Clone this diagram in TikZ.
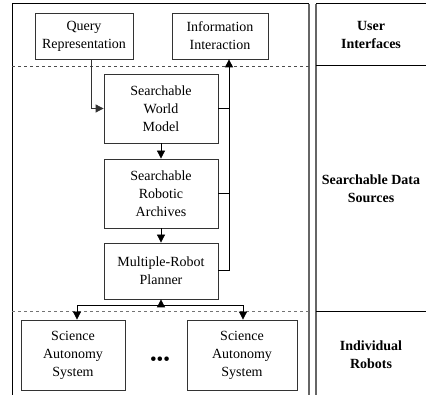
\documentclass[tikz,border=0pt]{standalone}
\usepackage{fontspec}
\setmainfont{Liberation Serif}
\usetikzlibrary{arrows.meta,positioning}
\begin{document}
\begin{tikzpicture}[x=1pt, y=-1pt, >={Triangle[length=8pt,width=8pt]},
	every node/.style={align=center, font=\fontsize{14}{18}\selectfont},
	box/.style={draw=black!80, line width=0.8pt, inner sep=0pt},
	layer/.style={font=\fontsize{14}{18}\selectfont\bfseries},
	frame/.style={draw=black!60, line width=1.2pt},
	bus/.style={line width=1pt}]

	\useasboundingbox (0,0) rectangle (426,395);

	\node [box, minimum width=98pt, minimum height=46pt] (Q) at (84,36) {Query\\Representation};
	\node [box, minimum width=96pt, minimum height=46pt] (I) at (220,36) {Information\\Interaction};
	\node [box, minimum width=114pt, minimum height=69pt] (W) at (161,108.5) {Searchable\\World\\Model};
	\node [box, minimum width=114pt, minimum height=69pt] (A) at (161,193.5) {Searchable\\Robotic\\Archives};
	\node [box, minimum width=114pt, minimum height=56pt] (P) at (161,271) {Multiple-Robot\\Planner};
	\node [box, minimum width=104pt, minimum height=70pt] (S1) at (73,355) {Science\\Autonomy\\System};
	\node [box, minimum width=110pt, minimum height=70pt] (S2) at (242,355) {Science\\Autonomy\\System};
	\node [font=\fontsize{19}{19}\selectfont] (dots) at (160,361) {\textbullet\textbullet\textbullet};

	\node [layer] (U) at (371,35) {User\\Interfaces};
	\node [layer] (D) at (371,189) {Searchable Data\\Sources};
	\node [layer] (R) at (371,355) {Individual\\Robots};

	\draw [line width=1pt] (12,395) -- (12,4) -- (309,4);
	\draw [frame] (309,4) -- (309,395);
	\draw [frame] (316,395) -- (316,4);
	\draw [line width=1pt] (316,4) -- (426,4);
	\draw [line width=1pt] (316,66) -- (426,66);
	\draw [line width=1pt] (316,312) -- (426,312);
	\draw [dashed, draw=black!70, line width=0.8pt] (12,66) -- (309,66);
	\draw [dashed, draw=black!55, line width=1pt] (12,312) -- (309,312);

	\coordinate (up) at ([xshift=9pt]I.south);
	\coordinate (fork) at ([yshift=-6pt]P.south);

	\draw [->, draw=black!80, line width=0.8pt] ([xshift=7pt]Q.south) |- (W.west);
	\draw [->, line width=0.8pt] (W) -- (A);
	\draw [->, line width=0.8pt] (A) -- (P);
	\draw [->, bus] (P.east) -| (up);
	\draw [bus] (W.east) -- (W.east -| up);
	\draw [bus] (A.east) -- (A.east -| up);
	\draw [->, line width=0.8pt] (fork) -- (P.south);
	\draw [->, line width=0.8pt] (fork) -| ([xshift=4pt]S1.north);
	\draw [->, line width=0.8pt] (fork) -| ([xshift=1pt]S2.north);

\end{tikzpicture}
\end{document}
